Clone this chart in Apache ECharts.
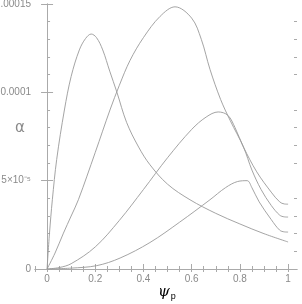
<!DOCTYPE html>
<html><head><meta charset="utf-8">
<script src="https://cdn.jsdelivr.net/npm/echarts@6/dist/echarts.min.js"></script>
<style>html,body{margin:0;padding:0;background:#fff}#c{width:302px;height:304px}</style>
</head><body><div id="c"></div>
<script>
// Curve data (x = psi_p, y = alpha in units of 1e-5)
const A_x = [0, 0.01, 0.022, 0.04, 0.072, 0.1, 0.134, 0.16, 0.183, 0.205, 0.231, 0.26, 0.29, 0.33, 0.38, 0.427, 0.5, 0.593, 0.7, 0.8, 0.9, 1.0];
const A_y = [0, 2.0, 3.92, 6.2, 9.0, 10.9, 12.4, 13.05, 13.3, 13.1, 12.4, 11.2, 10.0, 8.3, 6.9, 5.9, 4.8, 3.92, 3.15, 2.55, 2.0, 1.53];
const B_x = [0, 0.033, 0.068, 0.1, 0.13, 0.2, 0.261, 0.3, 0.344, 0.4, 0.469, 0.531, 0.6, 0.64, 0.676, 0.72, 0.76, 0.815, 0.85, 0.888, 0.93, 0.965, 0.985, 1.0];
const B_y = [0, 0.9, 2.03, 3.0, 3.92, 6.6, 9.0, 10.4, 11.8, 13.1, 14.3, 14.84, 14.2, 13.0, 11.3, 9.6, 8.4, 6.9, 5.6, 4.5, 3.6, 3.05, 2.95, 2.94];
const C_x = [0, 0.05, 0.1, 0.2, 0.3, 0.4, 0.5, 0.6, 0.66, 0.71, 0.75, 0.78, 0.815, 0.87, 0.93, 0.965, 0.985, 1.0];
const C_y = [0, 0.08, 0.3, 1.25, 2.75, 4.5, 6.3, 7.9, 8.6, 8.89, 8.7, 8.0, 6.9, 5.5, 4.35, 3.8, 3.68, 3.67];
const D_x = [0, 0.1, 0.206, 0.303, 0.427, 0.55, 0.676, 0.74, 0.79, 0.83, 0.85, 0.88, 0.93, 0.965, 0.985, 1.0];
const D_y = [0, 0.05, 0.19, 0.62, 1.5, 2.65, 3.92, 4.6, 4.95, 5.0, 4.6, 3.8, 2.8, 2.2, 2.1, 2.09];
const yScale = 1e-5;

// Ticks & labels
const xMajor = [0, 0.2, 0.4, 0.6, 0.8, 1];
const xMajorLabels = ['0', '0.2', '0.4', '0.6', '0.8', '1'];
const xMinor = [-0.05, 0.05, 0.1, 0.15, 0.25, 0.3, 0.35, 0.45, 0.5, 0.55, 0.65, 0.7, 0.75, 0.85, 0.9, 0.95];
const xAll = [-0.05, 0, 0.05, 0.1, 0.15, 0.2, 0.25, 0.3, 0.35, 0.4, 0.45, 0.5, 0.55, 0.6, 0.65, 0.7, 0.75, 0.8, 0.85, 0.9, 0.95, 1];
const yMajor = [0, 5e-5, 1e-4, 1.5e-4];
const yMajorLabels = ['0', '5×10⁻⁵', '0.0001', '0.00015'];
const yMinor = [1e-5, 2e-5, 3e-5, 4e-5, 6e-5, 7e-5, 8e-5, 9e-5, 1.1e-4, 1.2e-4, 1.3e-4, 1.4e-4];

const axisColor = '#aaa';
const lineColor = '#9a9a9a';
const labelColor = '#8a8a8a';
const XMIN = -0.05, XMAX = 1.037, YMIN = 0, YMAX = 1.5e-4;

function mk(xs, ys) { return xs.map((x, i) => [x, ys[i] * yScale]); }

function xAx(pos, ticks, len, labels, line) {
  return {
    type: 'value', position: pos, min: XMIN, max: XMAX, gridIndex: 0,
    axisLine: { show: line, lineStyle: { color: axisColor, width: 1 } },
    splitLine: { show: false },
    axisTick: { show: true, inside: true, length: len, customValues: ticks, lineStyle: { color: axisColor } },
    axisLabel: labels ? {
      show: true, customValues: xMajor, margin: 5, color: labelColor, fontSize: 10, fontFamily: 'Liberation Sans',
      formatter: v => { const i = xMajor.findIndex(m => Math.abs(m - v) < 1e-9); return i >= 0 ? xMajorLabels[i] : ''; }
    } : { show: false }
  };
}
function yAx(pos, ticks, len, labels, line) {
  return {
    type: 'value', position: pos, min: YMIN, max: YMAX, gridIndex: 0,
    axisLine: { show: line, lineStyle: { color: axisColor, width: 1 } },
    splitLine: { show: false },
    axisTick: { show: true, inside: true, length: len, customValues: ticks, lineStyle: { color: axisColor } },
    axisLabel: labels ? {
      show: true, customValues: yMajor, margin: 4, color: labelColor, fontSize: 10, fontFamily: 'Liberation Sans',
      formatter: v => { const i = yMajor.findIndex(m => Math.abs(m - v) < 1e-12); return i >= 0 ? yMajorLabels[i] : ''; }
    } : { show: false }
  };
}

const chart = echarts.init(document.getElementById('c'), null, { renderer: 'canvas' });
const ser = (d) => ({ type: 'line', data: d, smooth: 0.35, showSymbol: false, symbol: 'none', xAxisIndex: 0, yAxisIndex: 0,
  lineStyle: { color: lineColor, width: 0.9 }, animation: false });
chart.setOption({
  animation: false,
  grid: { left: 35, right: 5, top: 4, bottom: 35, containLabel: false, outerBoundsMode: 'none' },
  xAxis: [
    xAx('bottom', xMajor, 5, true, true),
    xAx('bottom', xMinor, 3, false, false),
    xAx('top', xAll, 3, false, true)
  ],
  yAxis: [
    yAx('left', yMajor, 6, true, true),
    yAx('left', yMinor, 3, false, false),
    yAx('right', yMajor, 6, false, true),
    yAx('right', yMinor, 3, false, false)
  ],
  graphic: [
    { type: 'text', left: 15, top: 121, style: { text: 'α', font: '15px "DejaVu Sans"', fill: labelColor } },
    { type: 'text', left: 158, top: 285, style: { text: '{a|ψ}{b|p}', rich: { a: { fontFamily: 'DejaVu Serif', fontStyle: 'italic', fontSize: 15, color: labelColor }, b: { fontFamily: 'Liberation Sans', fontSize: 9, fontWeight: 'normal', color: labelColor, padding: [8, 0, 0, 1] } } } }
  ],
  series: [ser(mk(A_x, A_y)), ser(mk(B_x, B_y)), ser(mk(C_x, C_y)), ser(mk(D_x, D_y))]
});
</script></body></html>
